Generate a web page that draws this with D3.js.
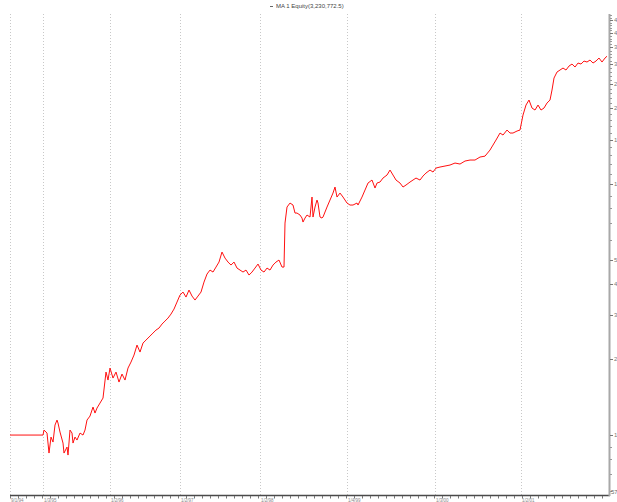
<!DOCTYPE html>
<html>
<head>
<meta charset="utf-8">
<script src="https://cdn.jsdelivr.net/npm/d3@7"></script>
<style>
  html, body { margin: 0; padding: 0; background: #fff; overflow: hidden; }
  svg { display: block; font-family: "Liberation Sans", Arial, sans-serif; }
</style>
</head>
<body>
<svg id="chart" width="617" height="502"></svg>
<script>
// Equity curve of system "MA 1", sampled by bar number
const bars = [
  0, 33, 34, 37, 39, 41, 43, 45, 47, 48, 50, 53, 54, 57, 58, 60, 62, 63, 65, 67,
  70, 73, 75, 77, 80, 83, 85, 87, 90, 93, 96, 98, 100, 103, 106, 109, 112, 115, 118, 121,
  124, 127, 130, 133, 136, 140, 143, 146, 149, 152, 155, 158, 161, 164, 167, 170, 173, 176, 179, 182,
  185, 188, 191, 194, 197, 200, 203, 206, 209, 212, 215, 218, 221, 224, 227, 230, 233, 236, 239, 242,
  245, 248, 251, 254, 257, 260, 263, 266, 269, 272, 274, 275, 277, 280, 283, 285, 287, 290, 292, 293,
  295, 297, 300, 302, 303, 305, 307, 308, 310, 312, 313, 317, 320, 323, 325, 327, 330, 333, 337, 340,
  343, 347, 348, 352, 355, 358, 362, 365, 367, 370, 373, 377, 380, 383, 386, 390, 393, 396, 400, 403,
  406, 410, 413, 416, 420, 423, 426, 430, 435, 440, 445, 450, 455, 460, 465, 470, 475, 480, 483, 486,
  490, 493, 497, 500, 503, 507, 510, 513, 516, 519, 522, 525, 528, 531, 534, 537, 540, 542, 544, 547,
  550, 553, 556, 559, 562, 565, 568, 571, 574, 577, 580, 583, 586, 589, 592, 595, 597
];
const equity = [
  100000, 100000, 104694, 101852, 84777, 98182, 93779, 109608, 114753, 111638, 102790, 92923, 84777, 89575, 83236, 104694, 101852, 92923, 98182, 95516,
  101852, 100000, 104694, 114753, 119042, 129289, 122365, 128108, 134121, 140417, 178243, 165630, 184905, 168697, 178243, 162618, 175002, 165630, 184905, 195369,
  208327, 228344, 214140, 232572, 239062, 247998, 254910, 262023, 266875, 276850, 284575, 292516, 303451, 317694, 338766, 361236, 371316, 354667, 378191, 357936,
  345039, 357936, 371316, 406992, 437987, 454357, 446097, 467035, 488958, 535938, 507234, 488958, 475685, 488958, 462770, 454357, 446097, 454357, 433987, 446097,
  462770, 480069, 454357, 446097, 462770, 454357, 475685, 488958, 498012, 467035, 467035, 699291, 809852, 840124, 824850, 766480, 766480, 752545, 732114, 705736,
  732114, 752545, 738862, 887663, 738862, 809852, 863566, 840124, 738862, 732114, 738862, 809852, 863566, 920844, 972950, 887663, 920844, 887663, 840124, 824850,
  824850, 840124, 824850, 887663, 946539, 1009320, 1037483, 964066, 1009320, 1018621, 1056694, 1086180, 1137162, 1086180, 1037483, 1009320, 972950, 990970, 1018621, 1037483,
  1056694, 1037483, 1076263, 1106293, 1137162, 1116488, 1158219, 1168893, 1179668, 1190540, 1212585, 1201512, 1235038, 1246420, 1246420, 1281198, 1292010, 1366180, 1430310, 1497445,
  1596770, 1567740, 1641326, 1596770, 1596770, 1626337, 1641326, 1883480, 2064440, 2161339, 2008398, 1971885, 2064440, 1971885, 2008398, 2102667, 2161339, 2369011, 2644707, 2794366,
  2846110, 2898811, 2846110, 2952489, 3007161, 2925524, 3034876, 3007161, 3091075, 3062843, 3119559, 3034876, 3091075, 3177324, 3062843, 3177324, 3230772.5
];

// Year boundaries on the date axis
const yearBars = [0, 33, 100, 170, 250, 337, 425, 511];
const yearLabels = ["9/1/94", "1/3/95", "1/2/96", "1/2/97", "1/2/98", "1/4/99", "1/3/00", "1/2/01"];

// Right-hand price scale
const valueMin = 57700;
const valueMax = 4759000;
const labeledValues = [100000, 200000, 300000, 400000, 500000, 1000000, 1500000, 2000000, 2500000, 3000000, 3500000, 4000000, 4500000];
const minorValues = [60000, 70000, 80000, 90000, 600000, 700000, 800000, 900000,
  1100000, 1200000, 1300000, 1400000, 1600000, 1700000, 1800000, 1900000,
  2100000, 2200000, 2300000, 2400000, 2600000, 2700000, 2800000, 2900000,
  3100000, 3200000, 3300000, 3400000, 3600000, 3700000, 3800000, 3900000,
  4100000, 4200000, 4300000, 4400000, 4600000, 4700000];

const seriesName = "MA 1 Equity";
const lastValue = equity[equity.length - 1];

const svg = d3.select("#chart");
const plot = { left: 10, right: 609, top: 14, bottom: 495 };

const x = d3.scaleLinear().domain([0, 598]).range([plot.left, plot.right - 1]);
const y = d3.scaleLog().domain([valueMin, valueMax]).range([plot.bottom, plot.top]);

// Dotted year gridlines
svg.append("g")
  .selectAll("line")
  .data(yearBars)
  .join("line")
  .attr("x1", d => Math.round(x(d)) + 0.5)
  .attr("x2", d => Math.round(x(d)) + 0.5)
  .attr("y1", plot.top)
  .attr("y2", plot.bottom)
  .attr("stroke", "#c8c8c8")
  .attr("stroke-width", 1)
  .attr("stroke-dasharray", "1,2");

// Equity line
const line = d3.line()
  .x((d, i) => x(bars[i]))
  .y(d => y(d));

svg.append("path")
  .datum(equity)
  .attr("d", line)
  .attr("fill", "none")
  .attr("stroke", "#ff1010")
  .attr("stroke-width", 1)
  .attr("stroke-linejoin", "round");

// Bottom date axis
const xAxisG = svg.append("g").attr("transform", `translate(0,${plot.bottom})`);
xAxisG.append("line")
  .attr("x1", plot.left).attr("x2", plot.right + 1)
  .attr("y1", 0.5).attr("y2", 0.5)
  .attr("stroke", "#4a4a4a").attr("stroke-width", 1.5);
const minorBars = d3.range(0, 599, 8);
xAxisG.selectAll("line.tick")
  .data(minorBars)
  .join("line")
  .attr("class", "tick")
  .attr("x1", d => Math.round(x(d)) + 0.5)
  .attr("x2", d => Math.round(x(d)) + 0.5)
  .attr("y1", 1).attr("y2", 3.5)
  .attr("stroke", "#777");
xAxisG.selectAll("text")
  .data(yearBars)
  .join("text")
  .attr("x", (d) => x(d) + 1)
  .attr("y", 6.5)
  .attr("font-size", 4.5)
  .attr("fill", "#888")
  .text((d, i) => yearLabels[i]);

// Right value axis
const yAxisG = svg.append("g").attr("transform", `translate(${plot.right},0)`);
yAxisG.append("line")
  .attr("x1", 0.5).attr("x2", 0.5)
  .attr("y1", plot.top).attr("y2", plot.bottom + 1)
  .attr("stroke", "#a8a8a8").attr("stroke-width", 2);
yAxisG.selectAll("line.minor")
  .data(minorValues)
  .join("line")
  .attr("class", "minor")
  .attr("x1", 1).attr("x2", 3)
  .attr("y1", d => Math.round(y(d)) + 0.5)
  .attr("y2", d => Math.round(y(d)) + 0.5)
  .attr("stroke", "#999");
yAxisG.selectAll("line.major")
  .data(labeledValues)
  .join("line")
  .attr("class", "major")
  .attr("x1", 1).attr("x2", 4)
  .attr("y1", d => Math.round(y(d)) + 0.5)
  .attr("y2", d => Math.round(y(d)) + 0.5)
  .attr("stroke", "#777");
yAxisG.selectAll("text.val")
  .data(labeledValues)
  .join("text")
  .attr("class", "val")
  .attr("x", 5)
  .attr("y", d => y(d) + 2)
  .attr("font-size", 6)
  .attr("fill", "#777")
  .text(d => d3.format(",")(d));
yAxisG.append("text")
  .attr("x", 2)
  .attr("y", plot.bottom - 1)
  .attr("font-size", 6)
  .attr("fill", "#666")
  .text(d3.format(",")(valueMin));

// Legend title
const legend = svg.append("g").attr("transform", "translate(270,8)");
legend.append("line")
  .attr("x1", 0).attr("x2", 3)
  .attr("y1", -1.5).attr("y2", -1.5)
  .attr("stroke", "#666");
legend.append("text")
  .attr("x", 6)
  .attr("y", 0)
  .attr("font-size", 6)
  .attr("fill", "#444")
  .text(`${seriesName}(${d3.format(",.1f")(lastValue)})`);
</script>
</body>
</html>
